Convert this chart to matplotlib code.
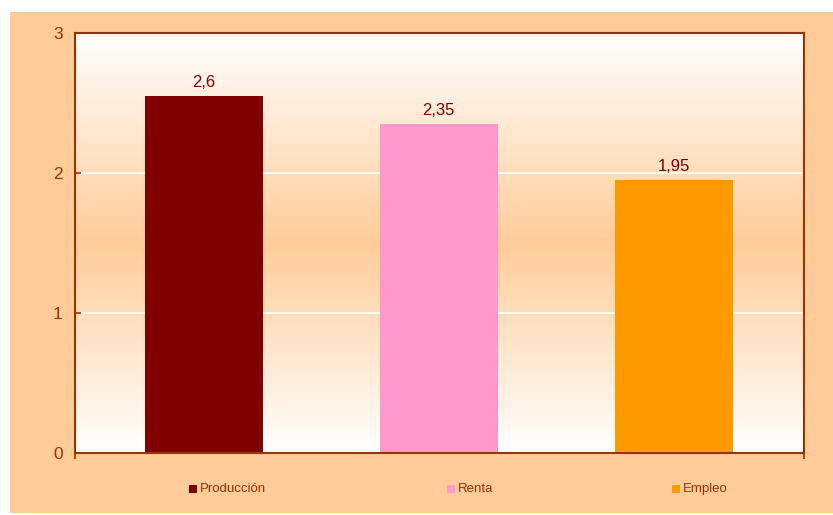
import matplotlib
matplotlib.use("Agg")
import matplotlib.pyplot as plt
import numpy as np
from matplotlib.patches import Rectangle
from matplotlib.colors import LinearSegmentedColormap

# ---- data ----
categories = ["Producción", "Renta", "Empleo"]
values = [2.55, 2.35, 1.95]
value_labels = ["2,6", "2,35", "1,95"]
bar_colors = ["#800000", "#FF99CC", "#FF9900"]
yticks = [0, 1, 2, 3]

# ---- layout ----
W, H = 833, 515
plt.rcParams['font.family'] = ['Liberation Sans', 'DejaVu Sans']
fig = plt.figure(figsize=(W / 100, H / 100), dpi=100, facecolor="white")
peach = "#FFCC99"
brown = "#993300"
bg = Rectangle((10 / W, 2 / H), (W - 10) / W, (H - 14) / H,
               transform=fig.transFigure, facecolor=peach,
               edgecolor="none", zorder=-10)
fig.add_artist(bg)

ax = fig.add_axes([75 / W, (H - 453) / H, 729 / W, 420 / H])
ax.set_facecolor("white")

pos = np.arange(len(categories))
ax.set_xlim(-0.549, 2.555)
ax.set_ylim(0, 3)

# gradient background white -> peach -> white
cmap = LinearSegmentedColormap.from_list("g", ["#FFFFFF", peach, "#FFFFFF"])
grad = np.linspace(0, 1, 256).reshape(-1, 1)
ax.imshow(grad, extent=[-0.549, 2.555, 0, 3], aspect="auto", cmap=cmap,
          origin="lower", zorder=0, interpolation="bilinear")

for y in [1, 2]:
    ax.axhline(y, color="white", lw=1.2, zorder=1)

bars = ax.bar(pos, values, width=0.502, color=bar_colors, zorder=2)
for b, lab in zip(bars, value_labels):
    ax.annotate(lab, (b.get_x() + b.get_width() / 2, b.get_height()),
                xytext=(0, 6), textcoords="offset pixels", ha="center",
                va="bottom", fontsize=12, color="#800000")

for s in ax.spines.values():
    s.set_color(brown)
    s.set_linewidth(1.5)

ax.set_yticks(yticks)
ax.set_yticklabels([str(t) for t in yticks])
ax.tick_params(axis="y", direction="in", length=4.3, width=1.2, color=brown,
               labelcolor=brown, labelsize=12.5, pad=9)
ax.set_xticks([-0.549, 2.555])
ax.set_xticklabels([])
ax.tick_params(axis="x", direction="out", length=4, width=1.2, color=brown)

# legend entries below axis
leg_x = [189, 447, 672]
for x, name, c in zip(leg_x, categories, bar_colors):
    fig.add_artist(Rectangle((x / W, (H - 493) / H), 8 / W, 8 / H,
                             transform=fig.transFigure, facecolor=c,
                             edgecolor="none", zorder=3))
    fig.text((x + 11) / W, (H - 489) / H, name, fontsize=9.5, color=brown,
             ha="left", va="center")

fig.savefig("out.png", dpi=100, facecolor="white")
